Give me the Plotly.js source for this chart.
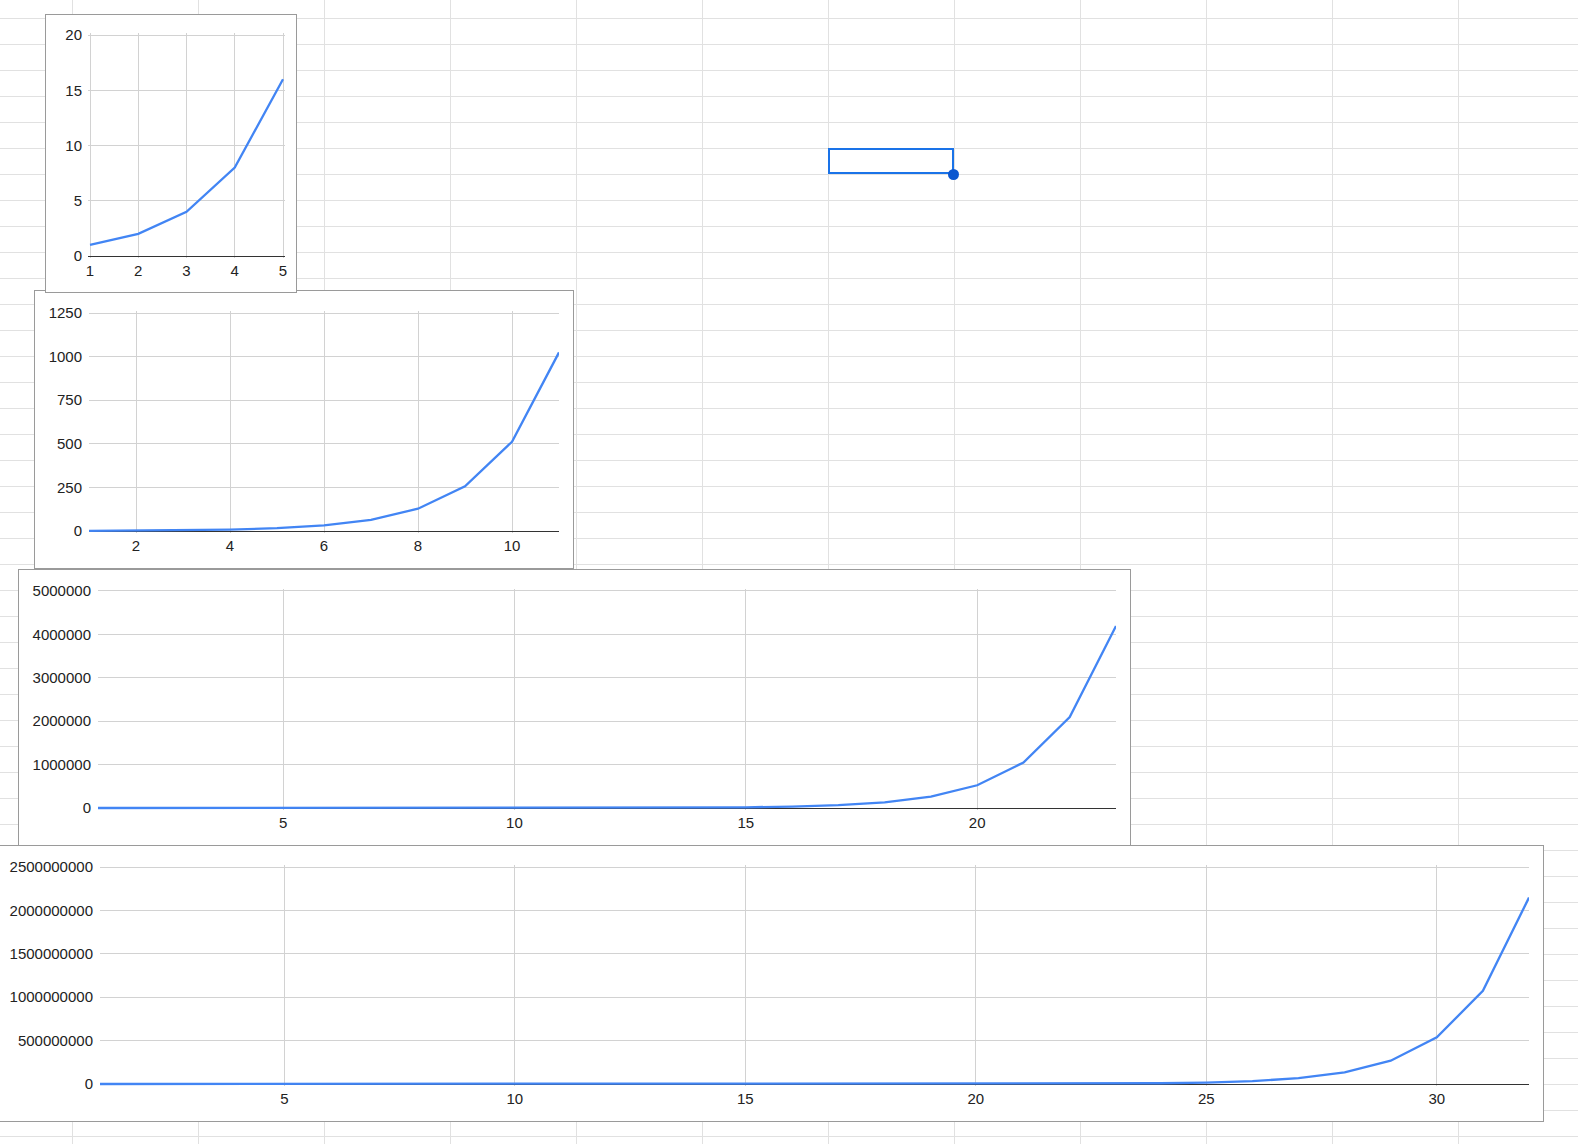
<!DOCTYPE html>
<html>
<head>
<meta charset="utf-8">
<script src="https://cdn.plot.ly/plotly-3.0.1.min.js"></script>
<style>
  html, body { margin: 0; padding: 0; }
  body {
    width: 1578px; height: 1144px; overflow: hidden; position: relative;
    background-color: #ffffff;
    background-image:
      linear-gradient(to right, #e1e1e1 1px, transparent 1px),
      linear-gradient(to bottom, #e1e1e1 1px, transparent 1px);
    background-size: 126px 26px;
    background-position: 72px 18px;
  }
  .chart {
    position: absolute; box-sizing: border-box;
    border: 1px solid #9a9a9a; background: #ffffff;
  }
  #sel {
    position: absolute; left: 828px; top: 148px; width: 126px; height: 26px;
    box-sizing: border-box; border: 2px solid #1a73e8;
  }
  #dot {
    position: absolute; left: 948px; top: 169px; width: 11px; height: 11px;
    border-radius: 50%; background: #0b57d0;
  }
</style>
</head>
<body>
<div id="sel"></div>
<div id="dot"></div>
<div id="c4" class="chart" style="left:-1px;top:845px;width:1545px;height:277px;z-index:1"></div>
<div id="c3" class="chart" style="left:18px;top:569px;width:1113px;height:277px;z-index:2"></div>
<div id="c2" class="chart" style="left:34px;top:290px;width:540px;height:279px;z-index:3"></div>
<div id="c1" class="chart" style="left:45px;top:14px;width:252px;height:279px;z-index:4"></div>
<script>
// ---- data ----
const x1 = [1, 2, 3, 4, 5];
const y1 = [1, 2, 4, 8, 16];

const x2 = [1, 2, 3, 4, 5, 6, 7, 8, 9, 10, 11];
const y2 = [1, 2, 4, 8, 16, 32, 64, 128, 256, 512, 1024];

const x3 = [1, 2, 3, 4, 5, 6, 7, 8, 9, 10, 11, 12, 13, 14, 15, 16, 17, 18, 19, 20, 21, 22, 23];
const y3 = [1, 2, 4, 8, 16, 32, 64, 128, 256, 512, 1024, 2048, 4096, 8192, 16384, 32768,
            65536, 131072, 262144, 524288, 1048576, 2097152, 4194304];

const x4 = [1, 2, 3, 4, 5, 6, 7, 8, 9, 10, 11, 12, 13, 14, 15, 16, 17, 18, 19, 20,
            21, 22, 23, 24, 25, 26, 27, 28, 29, 30, 31, 32];
const y4 = [1, 2, 4, 8, 16, 32, 64, 128, 256, 512, 1024, 2048, 4096, 8192, 16384, 32768,
            65536, 131072, 262144, 524288, 1048576, 2097152, 4194304, 8388608, 16777216,
            33554432, 67108864, 134217728, 268435456, 536870912, 1073741824, 2147483648];

// ---- charts ----
const FONT = {family: 'Arial, "Liberation Sans", sans-serif', size: 15, color: '#222222'};
const LINE = {color: '#4285f4', width: 2.3};
const GRID = '#d2d2d2';
const PAD = 2; // px of range padding so edge gridlines are kept

function draw(id, xs, ys, opt) {
  const el = document.getElementById(id);
  const w = el.clientWidth, h = el.clientHeight;
  const m = opt.margin;
  const plotW = w - m.l - m.r, plotH = h - m.t - m.b;
  const yu = (opt.yrange[1] - opt.yrange[0]) / plotH;
  const yr = [opt.yrange[0] - PAD * yu, opt.yrange[1] + PAD * yu];
  let xr = opt.xrange, ml = m.l, mr = m.r;
  if (opt.xpad) {
    const xu = (opt.xrange[1] - opt.xrange[0]) / plotW;
    xr = [opt.xrange[0] - PAD * xu, opt.xrange[1] + PAD * xu];
    ml = m.l - PAD; mr = m.r - PAD;
  }
  Plotly.newPlot(el, [{
    x: xs, y: ys, type: 'scatter', mode: 'lines', line: LINE,
    hoverinfo: 'none'
  }], {
    width: w, height: h,
    margin: {l: ml, r: mr, t: m.t - PAD, b: m.b - PAD, pad: 0},
    paper_bgcolor: '#ffffff', plot_bgcolor: '#ffffff',
    font: FONT,
    showlegend: false,
    xaxis: {
      range: xr, tickmode: 'linear', tick0: 0, dtick: opt.xdtick,
      showgrid: true, gridcolor: GRID, gridwidth: 1,
      zeroline: false, showline: false,
      ticks: '', tickfont: FONT, ticklabelstandoff: 2, fixedrange: true
    },
    yaxis: {
      range: yr, tickmode: 'linear', tick0: 0, dtick: opt.ydtick,
      tickformat: 'd', exponentformat: 'none',
      showgrid: true, gridcolor: GRID, gridwidth: 1,
      zeroline: true, zerolinecolor: '#333333', zerolinewidth: 1,
      showline: false,
      ticks: '', tickfont: FONT, ticklabelstandoff: 6 - (opt.xpad ? PAD - 1 : 0), fixedrange: true
    }
  }, {displayModeBar: false, staticPlot: true});
}

draw('c1', x1, y1, {margin: {l: 44, r: 13, t: 20, b: 36}, xrange: [1, 5], xdtick: 1, xpad: true, yrange: [0, 20], ydtick: 5});
draw('c2', x2, y2, {margin: {l: 54, r: 13.5, t: 21.7, b: 37.3}, xrange: [1, 11], xdtick: 2, yrange: [0, 1250], ydtick: 250});
draw('c3', x3, y3, {margin: {l: 79.2, r: 14, t: 20.7, b: 36.7}, xrange: [1, 23], xdtick: 5, yrange: [0, 5000000], ydtick: 1000000});
draw('c4', x4, y4, {margin: {l: 99.5, r: 13.5, t: 20.7, b: 37}, xrange: [1, 32], xdtick: 5, yrange: [0, 2500000000], ydtick: 500000000});
</script>
</body>
</html>
